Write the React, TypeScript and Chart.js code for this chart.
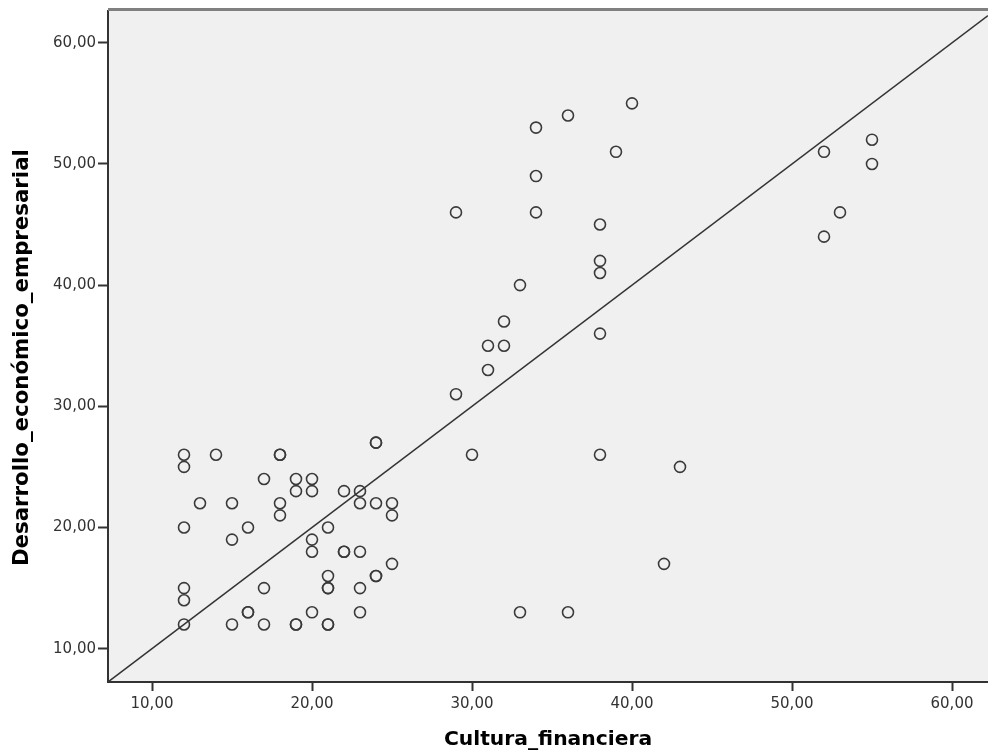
import React, { useEffect, useRef } from "react";
import { Chart, registerables } from "chart.js";

Chart.register(...registerables);

// Cultura_financiera (x) and Desarrollo_económico_empresarial (y), duplicates kept
const culturaFinanciera = [
  12, 12, 12, 12, 12, 12,
  13,
  14,
  15, 15, 15,
  16, 16, 16,
  17, 17, 17,
  18, 18, 18, 18,
  19, 19, 19, 19,
  20, 20, 20, 20, 20,
  21, 21, 21, 21, 21, 21,
  22, 22, 22,
  23, 23, 23, 23, 23,
  24, 24, 24, 24, 24,
  25, 25, 25,
  29, 29,
  30,
  31, 31,
  32, 32,
  33, 33,
  34, 34, 34,
  36, 36,
  38, 38, 38, 38, 38,
  39,
  40,
  42,
  43,
  52, 52,
  53,
  55, 55,
];
const desarrolloEconomico = [
  26, 25, 20, 15, 14, 12,
  22,
  26,
  22, 19, 12,
  20, 13, 13,
  24, 15, 12,
  26, 26, 22, 21,
  24, 23, 12, 12,
  24, 23, 19, 18, 13,
  20, 16, 15, 15, 12, 12,
  23, 18, 18,
  23, 22, 18, 15, 13,
  27, 27, 22, 16, 16,
  22, 21, 17,
  46, 31,
  26,
  35, 33,
  37, 35,
  40, 13,
  53, 49, 46,
  54, 13,
  45, 42, 41, 36, 26,
  51,
  55,
  17,
  25,
  51, 44,
  46,
  52, 50,
];

const xTicks = [10, 20, 30, 40, 50, 60];
const yTicks = [10, 20, 30, 40, 50, 60];
const xRange = [7.25, 62.25];
const yRange = [7.25, 62.62];
// reference line: y = intercept + slope * x
const fitIntercept = 0;
const fitSlope = 1;

const xTitle = "Cultura_financiera";
const yTitle = "Desarrollo_económico_empresarial   ";

const fmt = (v: number) => v.toFixed(2).replace(".", ",");

const plotBg = {
  id: "plotBg",
  beforeDraw(chart: any) {
    const { ctx, chartArea } = chart;
    if (!chartArea) return;
    ctx.save();
    ctx.fillStyle = "#f0f0f0";
    ctx.fillRect(chartArea.left, chartArea.top, chartArea.right - chartArea.left, chartArea.bottom - chartArea.top);
    ctx.restore();
  },
  afterDraw(chart: any) {
    const { ctx, chartArea } = chart;
    if (!chartArea) return;
    ctx.save();
    ctx.strokeStyle = "#808080";
    ctx.lineWidth = 3;
    ctx.beginPath();
    ctx.moveTo(chartArea.left, chartArea.top - 1.5);
    ctx.lineTo(chartArea.right, chartArea.top - 1.5);
    ctx.stroke();
    ctx.restore();
  },
};

export default function App() {
  const ref = useRef<HTMLCanvasElement | null>(null);

  useEffect(() => {
    if (!ref.current) return;
    const points = culturaFinanciera.map((x, i) => ({ x, y: desarrolloEconomico[i] }));
    const linePts = xRange.map((x) => ({ x, y: fitIntercept + fitSlope * x }));
    const chart = new Chart(ref.current, {
      type: "scatter",
      data: {
        datasets: [
          {
            type: "line",
            data: linePts,
            borderColor: "#333333",
            borderWidth: 1.5,
            pointRadius: 0,
            fill: false,
          } as any,
          {
            data: points,
            pointRadius: 5.5,
            pointBorderWidth: 1.6,
            pointBorderColor: "#3a3a3a",
            pointBackgroundColor: "rgba(0,0,0,0)",
            pointHoverRadius: 5.5,
          },
        ],
      },
      options: {
        animation: false,
        responsive: false,
        maintainAspectRatio: false,
        layout: { autoPadding: false, padding: { top: 11, right: 0, bottom: 0, left: 0 } },
        plugins: { legend: { display: false }, tooltip: { enabled: false } },
        scales: {
          x: {
            type: "linear",
            min: xRange[0],
            max: xRange[1],
            afterBuildTicks: (s: any) => {
              s.ticks = xTicks.map((v) => ({ value: v }));
            },
            afterFit: (s: any) => {
              s.height = 73;
              s.paddingLeft = 0;
              s.paddingRight = 0;
            },
            grid: { display: true, drawOnChartArea: false, drawTicks: true, tickLength: 9, tickWidth: 2, tickColor: "#333333" },
            border: { display: true, color: "#333333", width: 2 },
            ticks: {
              callback: (v: any) => fmt(Number(v)),
              color: "#333333",
              padding: 4,
              maxRotation: 0,
              font: { family: "'DejaVu Sans'", size: 15 },
            },
            title: {
              display: true,
              text: xTitle,
              color: "#000000",
              padding: { top: 0, bottom: 3 },
              font: { family: "'DejaVu Sans'", size: 20.3, weight: "bold" },
            },
          },
          y: {
            type: "linear",
            min: yRange[0],
            max: yRange[1],
            afterBuildTicks: (s: any) => {
              s.ticks = yTicks.map((v) => ({ value: v }));
            },
            afterFit: (s: any) => {
              s.width = 108;
              s.paddingTop = 0;
              s.paddingBottom = 0;
            },
            grid: { display: true, drawOnChartArea: false, drawTicks: true, tickLength: 10, tickWidth: 2, tickColor: "#333333" },
            border: { display: true, color: "#333333", width: 2 },
            ticks: {
              callback: (v: any) => fmt(Number(v)),
              color: "#333333",
              padding: 2,
              font: { family: "'DejaVu Sans'", size: 15 },
            },
            title: {
              display: true,
              text: yTitle,
              color: "#000000",
              padding: { top: 10, bottom: 0 },
              font: { family: "'DejaVu Sans'", size: 21.3, weight: "bold" },
            },
          },
        },
      },
      plugins: [plotBg],
    });
    return () => chart.destroy();
  }, []);

  return (
    <div style={{ position: "absolute", left: 0, top: 0, width: 988, height: 755, background: "#ffffff" }}>
      <canvas ref={ref} width={988} height={755} style={{ width: 988, height: 755, display: "block" }} />
    </div>
  );
}
